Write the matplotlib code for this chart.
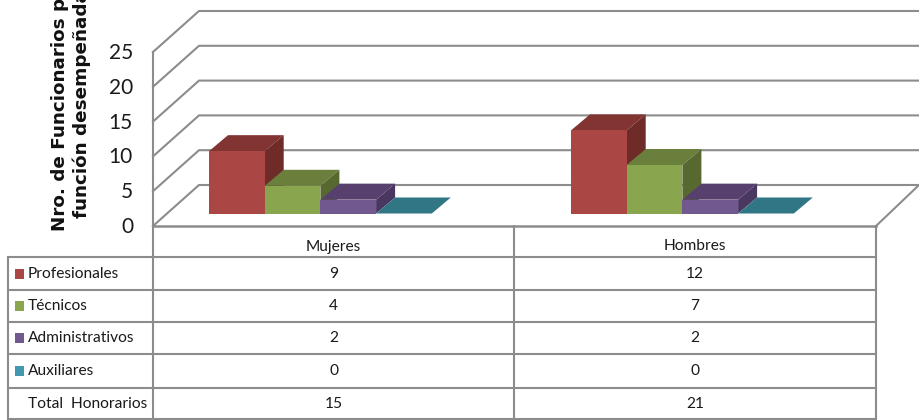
import matplotlib
matplotlib.use("Agg")
import matplotlib.pyplot as plt
from matplotlib.patches import Polygon, Rectangle

groups = ["Mujeres", "Hombres"]
series = ["Profesionales", "Técnicos", "Administrativos", "Auxiliares"]
profesionales = [9, 12]
tecnicos = [4, 7]
administrativos = [2, 2]
auxiliares = [0, 0]
total_label = "Total  Honorarios"
totales = [15, 21]
y_ticks = [0, 5, 10, 15, 20, 25]
title_lines = "Nro. de Funcionarios por\nfunción desempeñada"

values = [profesionales, tecnicos, administrativos, auxiliares]
front_col = ["#AA4643", "#89A54E", "#71588F", "#4198AF"]
top_col = ["#823432", "#6A7F3B", "#58406E", "#317685"]
side_col = ["#6E2B28", "#58692F", "#4A3761", "#2A6270"]
GRID = "#8C8C8C"
TXT = "#1a1a1a"
FONT = "Lato"
TICK_FS = 15
TAB_FS = 11.2

fig = plt.figure(figsize=(9.19, 4.2), dpi=100)
ax = fig.add_axes([0, 0, 1, 1])
ax.set_xlim(0, 919)
ax.set_ylim(420, 0)
ax.axis("off")

# projection geometry (pixels)
X0, X1, Y0, PX = 153, 876, 226, 6.96
DX, DY = 46, 41

def yv(v):
    return Y0 - v * PX

# walls and gridlines
for t in y_ticks:
    y = yv(t)
    ax.plot([X0, X0 + DX, 919], [y, y - DY, y - DY], color=GRID, lw=1.5, zorder=1,
            solid_joinstyle="miter")
    ax.text(133, y + 1, str(t), ha="right", va="center", fontsize=TICK_FS, family=FONT, color=TXT)
ax.plot([X0, X0], [yv(25), Y0], color=GRID, lw=1.5, zorder=1)
ax.plot([X1, 919], [Y0, Y0 - DY], color=GRID, lw=1.5, zorder=1)
ax.plot([X0, X1], [Y0, Y0], color=GRID, lw=1.8, zorder=1)

# bars
BAR_W, BASE, BDX, BDY = 55.7, 213.5, 19, 16
starts = [209, 571]
for g, s in enumerate(starts):
    for i, vals in enumerate(values):
        x = s + i * BAR_W
        h = vals[g] * PX * 0.995
        top = BASE - h
        ax.add_patch(Polygon([(x, top), (x + BAR_W, top), (x + BAR_W + BDX, top - BDY), (x + BDX, top - BDY)],
                             fc=top_col[i], ec="none", zorder=3 + i))
        ax.add_patch(Polygon([(x + BAR_W, top), (x + BAR_W + BDX, top - BDY), (x + BAR_W + BDX, BASE - BDY), (x + BAR_W, BASE)],
                             fc=side_col[i], ec="none", zorder=3 + i))
        ax.add_patch(Rectangle((x, top), BAR_W, h, fc=front_col[i], ec="none", zorder=3 + i))

# data table
LEFT, MID = 8, 514
rows = [257, 290, 322, 354, 388, 419]
for y in rows:
    ax.plot([LEFT, X1], [y, y], color=GRID, lw=1.5, zorder=2)
ax.plot([LEFT, LEFT], [rows[0], rows[-1]], color=GRID, lw=1.5, zorder=2)
for x, y_top in [(X0, Y0), (MID, Y0), (X1, Y0)]:
    ax.plot([x, x], [y_top, rows[-1]], color=GRID, lw=1.5, zorder=2)

centers = [(X0 + MID) / 2, (MID + X1) / 2]
for c, g in zip(centers, groups):
    ax.text(c, (Y0 + rows[0]) / 2 + 5, g, ha="center", va="center", fontsize=TAB_FS, family=FONT, color=TXT)

table_rows = values + [totales]
for r, vals in enumerate(table_rows):
    ymid = (rows[r] + rows[r + 1]) / 2
    for c, v in zip(centers, vals):
        ax.text(c, ymid, str(v), ha="center", va="center", fontsize=TAB_FS, family=FONT, color=TXT)
    if r < len(series):
        ax.add_patch(Rectangle((14.5, ymid - 5), 9, 10, fc=front_col[r], ec="none", zorder=3))
        ax.text(28, ymid, series[r], ha="left", va="center", fontsize=TAB_FS, family=FONT, color=TXT)
    else:
        ax.text(28, ymid, total_label, ha="left", va="center", fontsize=TAB_FS, family=FONT, color=TXT)

# axis title, cut by the top of the picture as in the source
ax.text(71, 231, title_lines, rotation=90, ha="center", va="bottom", multialignment="center",
        fontsize=13.2, fontweight="bold", family="DejaVu Sans", color="#111111",
        linespacing=1.25, clip_on=True)

fig.savefig("out.png", dpi=100)
